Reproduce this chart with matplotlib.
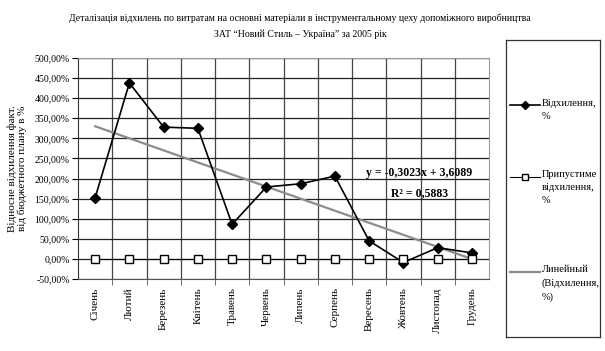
import numpy as np
import matplotlib
matplotlib.use('Agg')
import matplotlib.pyplot as plt
from matplotlib.ticker import FuncFormatter, MultipleLocator

plt.rcParams['font.family'] = ['Liberation Serif', 'DejaVu Serif']

# дані (відхилення у %)
months = ['Січень', 'Лютий', 'Березень', 'Квітень', 'Травень', 'Червень',
          'Липень', 'Серпень', 'Вересень', 'Жовтень', 'Листопад', 'Грудень']
deviation = [152, 438, 328, 325, 86, 179, 187, 206, 45, -9, 28, 15]
allowed = [0, 0, 0, 0, 0, 0, 0, 0, 0, 0, 0, 0]
eq_text = 'y = -0,3023x + 3,6089'
r2_text = 'R² = 0,5883'

title = ('Деталізація відхилень по витратам на основні матеріали в інструментальному цеху допоміжного виробництва\n'
         'ЗАТ “Новий Стиль – Україна” за 2005 рік')

W, H = 605, 351
fig = plt.figure(figsize=(W / 100, H / 100), dpi=100)
ax = fig.add_axes([78 / W, 1 - 279 / H, 411 / W, 221 / H])

x = np.arange(len(months))
# лінійний тренд
k, b = np.polyfit(x + 1, deviation, 1)
trend = k * (x + 1) + b

ax.plot(x, trend, color='#8c8c8c', lw=1.6, zorder=2)
ax.plot(x, deviation, color='black', lw=1.2, marker='D', ms=5, zorder=3)
ax.plot(x, allowed, color='black', lw=0.8, marker='s', ms=6,
        markerfacecolor='white', markeredgecolor='black', zorder=3)

ax.set_xlim(-0.5, len(months) - 0.5)
ax.set_ylim(-50, 500)
ax.yaxis.set_major_locator(MultipleLocator(50))
ax.yaxis.set_major_formatter(FuncFormatter(lambda v, p: f'{v:.2f}%'.replace('.', ',')))
ax.set_xticks(x)
ax.set_xticklabels(months, rotation=90, fontsize=8)
ax.set_xticks(x[:-1] + 0.5, minor=True)
ax.tick_params(axis='x', which='major', length=0, pad=6)
ax.tick_params(axis='x', which='minor', length=4, color='#555555')
ax.tick_params(axis='y', labelsize=7, length=4, pad=2)

ax.grid(axis='y', which='major', color='#222222', lw=0.9)
ax.grid(axis='x', which='minor', color='#444444', lw=0.9)
ax.set_axisbelow(True)
for s in ['top', 'right']:
    ax.spines[s].set_color('#999999')
ax.spines['left'].set_color('#333333')
ax.spines['bottom'].set_color('#555555')

ax.set_ylabel('Відносне відхилення факт.\nвід бюджетного плану в %', fontsize=8, labelpad=5,
              linespacing=1.1)

ax.text(0.83, 0.48, eq_text, transform=ax.transAxes, ha='center', va='center',
        fontsize=8.5, fontweight='bold')
ax.text(0.83, 0.39, r2_text, transform=ax.transAxes, ha='center', va='center',
        fontsize=8.5, fontweight='bold')

fig.text(0.496, 1 - 26 / H, title, ha='center', va='center', fontsize=7, linespacing=1.9)

# легенда
lax = fig.add_axes([506 / W, 1 - 337 / H, 94 / W, 297 / H])
lax.set_xlim(0, 1)
lax.set_ylim(0, 1)
lax.set_xticks([])
lax.set_yticks([])
for s in lax.spines.values():
    s.set_color('#333333')
    s.set_linewidth(0.9)
entries = [
    ('Відхилення,\n%', dict(color='black', lw=1.2, marker='D', ms=4)),
    ('Припустиме\nвідхилення,\n%', dict(color='black', lw=0.8, marker='s', ms=5,
                                        markerfacecolor='white', markeredgecolor='black')),
    ('Линейный\n(Відхилення,\n%)', dict(color='#8c8c8c', lw=1.6)),
]
ys = [0.78, 0.54, 0.22]
for (lbl, st), yy in zip(entries, ys):
    lax.plot([0.04, 0.2, 0.36], [yy, yy, yy], markevery=[1], **st)
    lax.text(0.38, yy + 0.022, lbl, ha='left', va='top', fontsize=7.5, linespacing=1.6)

fig.savefig('out.png', dpi=100)
